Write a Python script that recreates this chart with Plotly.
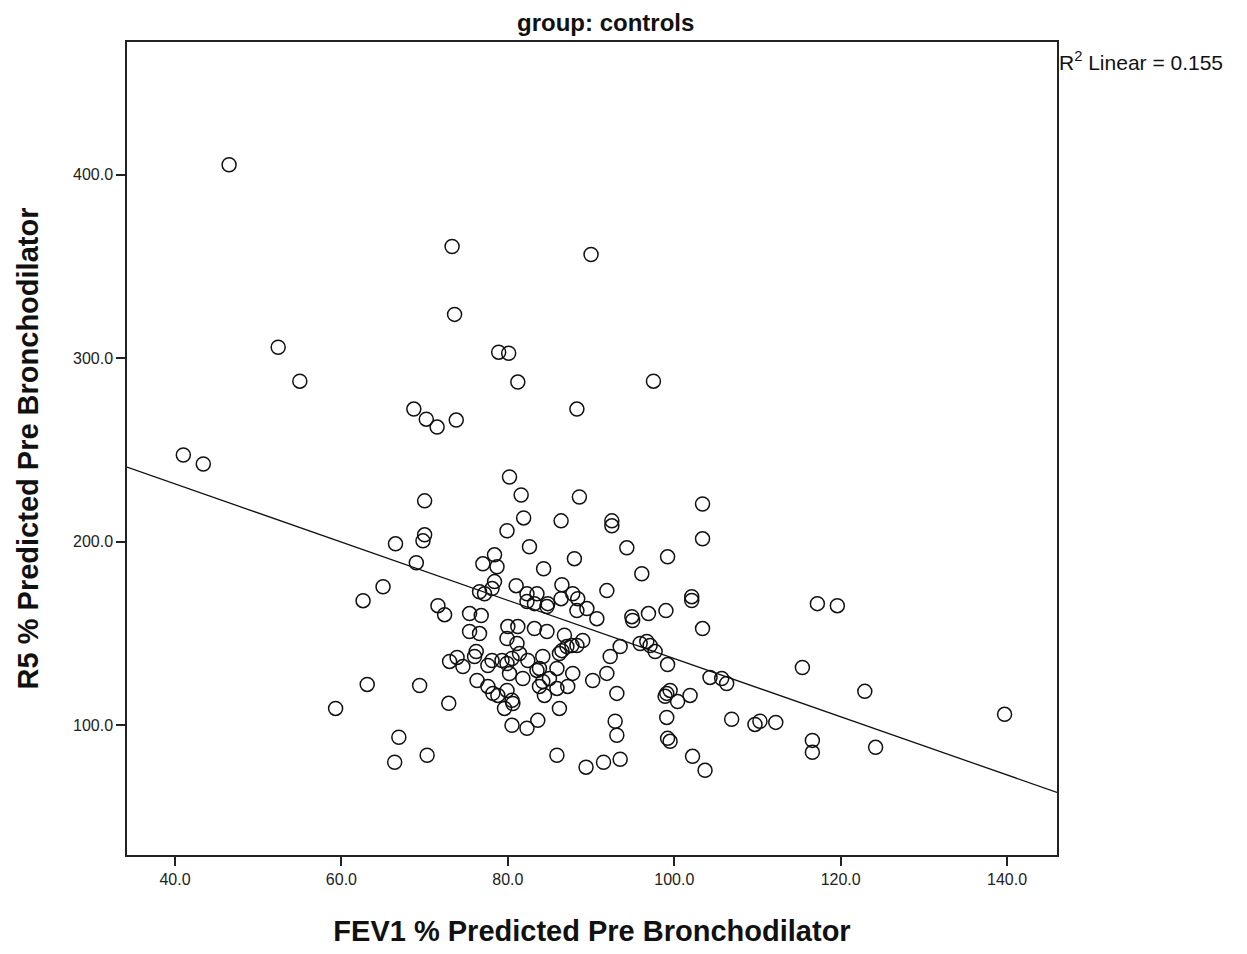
import numpy as np
import plotly.graph_objects as go

# FEV1 % predicted (x) and R5 % predicted (y), pre bronchodilator, control group
fev1 = [
    46.5, 73.3, 90.0, 73.6, 52.4, 78.9, 80.1, 55.0, 81.2, 97.5, 68.7, 88.3, 70.2, 71.5, 73.8, 41.0, 43.4,
    80.2, 81.6, 88.6, 103.4, 70.0, 81.9, 86.4, 92.5, 92.5, 70.0, 69.8, 79.9, 103.4, 82.6, 94.3, 66.5,
    99.2, 88.0, 78.4, 69.0,
    77.0, 78.7, 84.3, 78.4, 76.6, 77.2, 78.1, 81.0, 82.3, 83.5, 82.3, 83.2, 84.7, 71.6, 72.4, 75.4, 76.8,
    96.1, 86.5, 91.9, 102.1, 102.1, 84.8, 86.4, 87.8, 88.4, 88.3, 89.5, 90.7, 94.9, 95.0, 96.9, 99.0,
    65.0, 62.6, 117.2, 119.6,
    75.4, 76.6, 80.0, 81.2, 83.2, 84.7, 79.9, 81.1, 76.2, 76.0, 73.9, 73.0, 74.6, 78.1, 77.6, 79.3, 79.9,
    80.5, 81.4, 82.4, 84.2, 83.5, 80.2, 81.8, 84.2, 83.8, 84.4, 76.3, 77.6, 78.2, 78.8, 79.9, 80.5, 79.6,
    80.6, 69.4, 72.9, 80.5, 82.3, 83.6, 66.9, 70.3, 66.4, 63.1, 59.3,
    86.8, 89.0, 88.3, 86.5, 87.1, 87.7, 86.2, 93.5, 92.3, 95.9, 96.7, 97.1, 97.7, 99.2, 103.4, 83.8,
    85.9, 87.8, 85.0, 85.9, 87.2, 86.2, 90.2, 91.9, 93.1, 99.1, 99.5, 98.9, 100.4, 101.9, 99.1, 92.9,
    93.1, 99.2, 99.5, 85.9, 89.4, 91.5, 93.5, 102.2, 103.7,
    104.3, 105.7, 106.3, 115.4, 122.9, 106.9, 109.7, 110.3, 112.2, 116.6, 116.6, 124.2, 139.7,
]
r5 = [
    405.4, 360.9, 356.5, 323.9, 306.0, 303.3, 302.7, 287.5, 287.0, 287.5, 272.3, 272.3, 266.8, 262.5, 266.3, 247.3, 242.4,
    235.3, 225.5, 224.4, 220.6, 222.3, 213.0, 211.4, 211.4, 208.7, 203.8, 200.5, 206.0, 201.6, 197.3, 196.7, 198.9,
    191.8, 190.8, 192.9, 188.6,
    188.0, 186.4, 185.3, 178.3, 172.8, 171.7, 174.5, 176.1, 171.7, 171.7, 167.4, 166.3, 164.7, 165.2, 160.3, 160.9, 159.8,
    182.6, 176.6, 173.4, 170.1, 168.0, 166.3, 169.0, 171.7, 169.0, 162.5, 163.6, 158.1, 159.2, 157.1, 160.9, 162.5,
    175.5, 167.9, 166.3, 165.2,
    151.1, 150.0, 153.8, 153.8, 152.7, 151.1, 147.3, 144.6, 140.2, 137.5, 137.0, 134.8, 132.0, 135.3, 132.6, 135.3, 133.7,
    136.4, 139.1, 135.3, 137.5, 129.9, 128.2, 125.5, 123.9, 121.2, 116.3, 124.4, 121.2, 117.4, 116.3, 119.0, 113.6, 109.2,
    111.9, 121.7, 112.0, 100.0, 98.4, 102.7, 93.5, 83.7, 79.9, 122.3, 109.2,
    149.1, 146.2, 143.5, 140.7, 142.9, 143.5, 139.1, 142.9, 137.5, 144.6, 145.7, 143.5, 140.2, 133.1, 152.7, 131.0,
    131.0, 128.3, 125.5, 120.1, 121.2, 109.2, 124.4, 128.3, 117.4, 117.4, 119.0, 115.8, 113.0, 116.3, 104.3, 102.2,
    94.6, 92.9, 91.3, 83.7, 77.2, 79.9, 81.5, 83.1, 75.5,
    126.1, 125.5, 122.8, 131.5, 118.5, 103.3, 100.5, 102.2, 101.6, 91.8, 85.3, 88.0, 106.0,
]

x_ticks = [40, 60, 80, 100, 120, 140]
y_ticks = [100, 200, 300, 400]
x_range = [34.23, 146.0]
y_range = [29.35, 472.3]

title_text = "group: controls"
x_title = "FEV1 % Predicted Pre Bronchodilator"
y_title = "R5 % Predicted Pre Bronchodilator"
r2_text = "R<sup>2</sup> Linear = 0.155"

# least-squares fit line across the full x span
slope, intercept = np.polyfit(fev1, r5, 1)
fit_x = np.array(x_range)
fit_y = intercept + slope * fit_x

FONT = "Liberation Sans, Arial, sans-serif"

fig = go.Figure()
fig.add_trace(go.Scatter(
    x=fev1, y=r5, mode="markers",
    marker=dict(symbol="circle-open", size=14, color="#111111", line=dict(width=1.5)),
    showlegend=False, hoverinfo="x+y",
))
fig.add_trace(go.Scatter(
    x=fit_x, y=fit_y, mode="lines",
    line=dict(color="#111111", width=1.3),
    showlegend=False, hoverinfo="skip",
))

axis_common = dict(
    showgrid=False, zeroline=False,
    showline=True, linecolor="#222222", linewidth=1.5, mirror=True,
    ticks="outside", ticklen=9, tickwidth=1.5, tickcolor="#222222",
    tickfont=dict(family=FONT, size=16, color="#222222"),
    tickformat=".1f",
)

fig.update_layout(
    width=1247, height=954,
    margin=dict(l=127, r=190, t=42, b=97),
    paper_bgcolor="white", plot_bgcolor="white",
    xaxis=dict(range=x_range, tickvals=x_ticks, **axis_common,
               title=dict(text=f"<b>{x_title}</b>", font=dict(family=FONT, size=29, color="#111111"),
                          standoff=34)),
    yaxis=dict(range=y_range, tickvals=y_ticks, **axis_common,
               title=dict(text=f"<b>{y_title}</b>", font=dict(family=FONT, size=29, color="#111111"),
                          standoff=26)),
    annotations=[
        dict(text=f"<b>{title_text}</b>", x=0.515, y=1.0, xref="paper", yref="paper",
             xanchor="center", yanchor="bottom", yshift=4, showarrow=False,
             font=dict(family=FONT, size=24, color="#111111")),
        dict(text=r2_text, x=1.0, y=1.0, xref="paper", yref="paper",
             xanchor="left", yanchor="top", xshift=0, yshift=-4, showarrow=False,
             font=dict(family=FONT, size=21, color="#111111")),
    ],
)

fig.write_html("out.html")
